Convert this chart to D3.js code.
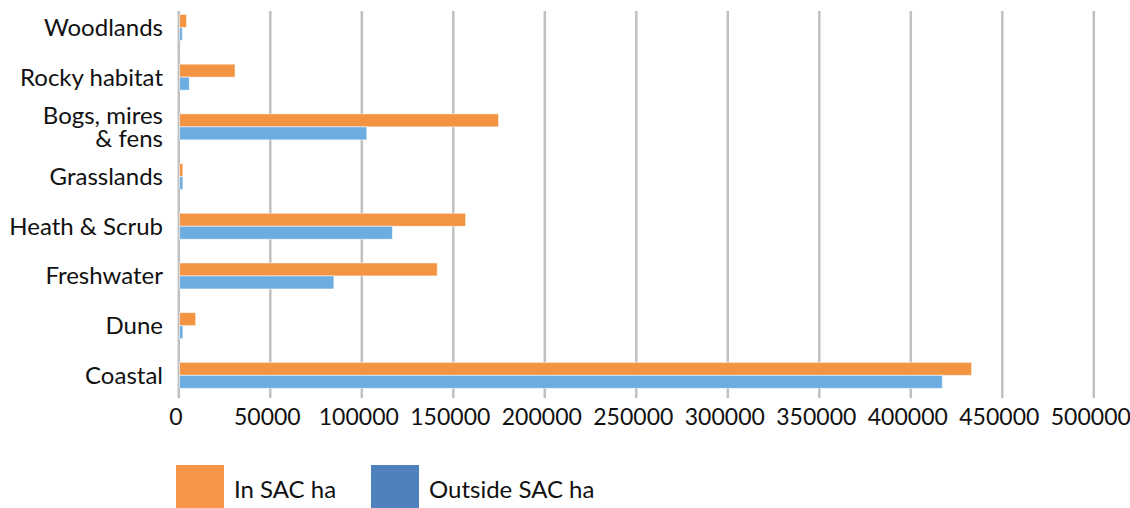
<!DOCTYPE html>
<html>
<head>
<meta charset="utf-8">
<script src="https://cdn.jsdelivr.net/npm/d3@7"></script>
<style>
  html, body { margin: 0; padding: 0; background: #fff; }
  svg { display: block; font-family: Lato, "Open Sans", sans-serif; }
</style>
</head>
<body>
<svg id="chart" width="1130" height="508"></svg>
<script>
const categories = ["Woodlands", "Rocky habitat", "Bogs, mires\n& fens", "Grasslands", "Heath & Scrub", "Freshwater", "Dune", "Coastal"];
const inSAC = [4500, 31000, 175000, 2500, 157000, 141500, 9500, 433500];
const outsideSAC = [2200, 6000, 103000, 2500, 117000, 85000, 2500, 417500];
const seriesNames = ["In SAC ha", "Outside SAC ha"];
const barColors = ["#F39442", "#6CACE0"];
const legendColors = ["#F79646", "#4F81BD"];
const xTicks = [0, 50000, 100000, 150000, 200000, 250000, 300000, 350000, 400000, 450000, 500000];

const FS = 24;
const svg = d3.select("#chart");
const x = d3.scaleLinear().domain([0, 500000]).range([178.3, 1093.3]);
const y = d3.scaleBand().domain(categories).range([2.6, 400.2]);
const step = y.bandwidth();
const barH = 13;
const y1 = d3.scaleBand().domain(seriesNames)
  .range([step / 2 - barH, step / 2 + barH]).padding(0);

const gridTop = 11, gridBottom = 398;

// gridlines + tick labels
const xAxis = d3.axisBottom(x).tickValues(xTicks).tickFormat(d3.format("d"))
  .tickSize(gridBottom - gridTop).tickPadding(11);
const gx = svg.append("g").attr("transform", `translate(0,${gridTop})`).call(xAxis);
gx.select(".domain").remove();
gx.selectAll(".tick line").attr("stroke", "#c0c0c0").attr("stroke-width", 2.5);
gx.selectAll(".tick text").attr("fill", "#111").attr("font-size", 23)
  .attr("dx", -3)
  .attr("font-family", "Lato, sans-serif");

const rows = categories.map((c, i) => ({ cat: c, vals: [inSAC[i], outsideSAC[i]] }));

const g = svg.append("g");
rows.forEach(r => {
  r.vals.forEach((v, j) => {
    g.append("rect")
      .attr("x", x(0) + 1.3)
      .attr("y", y(r.cat) + y1(seriesNames[j]))
      .attr("width", Math.max(0, x(v) - x(0) - 1.3))
      .attr("height", y1.bandwidth())
      .attr("fill", barColors[j])
      .attr("stroke", "rgba(255,255,255,0.55)")
      .attr("stroke-width", 1);
  });
});

// category labels
const yAxisG = svg.append("g");
categories.forEach(c => {
  const lines = c.split("\n");
  const cy = y(c) + step / 2;
  const lh = 22.5;
  const t = yAxisG.append("text")
    .attr("x", 163)
    .attr("text-anchor", "end")
    .attr("font-size", FS)
    .attr("fill", "#111");
  lines.forEach((ln, k) => {
    t.append("tspan")
      .attr("x", 163)
      .attr("y", cy + (k - (lines.length - 1) / 2) * lh)
      .attr("dy", "0.35em")
      .text(ln);
  });
});

// legend
const legendItems = [
  { name: seriesNames[0], color: legendColors[0], x: 176 },
  { name: seriesNames[1], color: legendColors[1], x: 371 }
];
const lg = svg.append("g");
legendItems.forEach(it => {
  lg.append("rect").attr("x", it.x).attr("y", 465).attr("width", 48).attr("height", 43)
    .attr("fill", it.color);
  lg.append("text").attr("x", it.x + 58).attr("y", 498)
    .attr("font-size", FS).attr("fill", "#111").text(it.name);
});
</script>
</body>
</html>
